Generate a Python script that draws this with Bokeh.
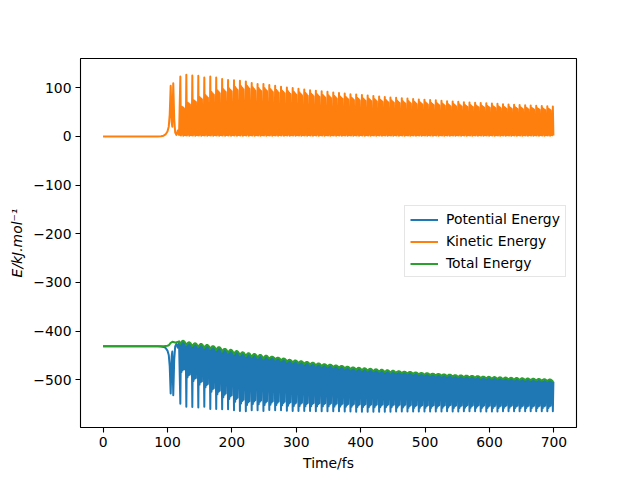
from bokeh.plotting import figure
from bokeh.models import Range1d, FixedTicker, Legend, LegendItem, ColumnDataSource
from bokeh.embed import file_html
from bokeh.resources import INLINE

# ---------------- data ----------------
# onset of the motion (before the regular oscillation)
onset_t = [0, 85, 90, 94, 97, 100, 102, 103.5, 105, 106.5, 107.5, 109, 110.5, 112, 114, 116, 118]
onset_ke = [0, 0, 0.5, 1.5, 4, 10, 20, 45, 104, 30, 20, 109, 35, 8, 3, 12, 3]
onset_tot = [-431, -431, -431, -431, -430.5, -430, -429, -427, -424, -423, -422, -422.5,
             -423, -423.5, -423, -422, -421]

# times (fs) of the kinetic-energy maxima of each vibration
cycle_t = [120, 129.3, 138.6, 147.9, 157.2, 166.5, 175.7, 184.9, 194.1, 203.3, 212.5,
           221.7, 230.8, 239.9, 249.0, 258.1, 267.2, 276.3, 285.4, 294.4, 303.4,
           312.4, 321.4, 330.4, 339.4, 348.4, 357.4, 366.3, 375.2, 384.1, 393.0,
           401.9, 410.8, 419.7, 428.6, 437.4, 446.2, 455.0, 463.8, 472.6, 481.4,
           490.2, 499.0, 507.8, 516.6, 525.4, 534.1, 542.8, 551.5, 560.2, 568.9,
           577.6, 586.3, 595.0, 603.7, 612.3, 620.9, 629.5, 638.1, 646.7, 655.3,
           663.9, 672.5, 681.1, 689.7, 698.3]
# kinetic energy maxima (kJ/mol)
ke_peak = [123, 126.5, 125, 124.5, 121, 123, 121, 118, 116, 115.5, 114.5,
           113, 109.5, 107.5, 107.5, 105.5, 104, 102, 100.5, 99.5, 98,
           96.5, 95, 94, 92.5, 91.5, 90, 89, 88, 86.5, 86,
           85, 84, 83, 82, 81, 80, 79.5, 78.5, 78, 77,
           76, 75.5, 74.5, 74, 73, 72, 71.5, 71, 70, 69.5,
           69, 68.5, 68, 67.5, 67, 66, 65.5, 65, 64.5, 64,
           63.5, 63, 62.5, 62, 61.5]
# secondary (fast) kinetic energy maxima inside each vibration
ke_mid = [61.5, 69.5, 75, 81, 84.5, 91, 94.5, 97, 98.5, 101.5, 103,
          104, 100.5, 99, 99, 97, 95.5, 94, 92.5, 91.5, 90,
          89, 87.5, 86.5, 85, 84, 83, 82, 81, 79.5, 79,
          78, 77.5, 76.5, 75.5, 74.5, 73.5, 73, 72, 72, 71,
          70, 69.5, 68.5, 68, 67, 66, 66, 65.5, 64.5, 64,
          63.5, 63, 62.5, 62, 61.5, 60.5, 60, 60, 59.5, 59,
          58.5, 58, 57.5, 57, 56.5]
# kinetic energy minima inside a vibration
ke_low = [2.0, 4.0, 1.5, 3.0, 2.5]
# lower fast maximum of each vibration (fraction of the main maximum)
ke_gap = 0.45
# total energy, tops of the small bumps
tot_top = [-420, -423, -425, -426.5, -428.5, -431, -433, -436.5, -438.5, -441, -443.5,
           -445.5, -447, -449, -450.5, -452.5, -454.5, -456.5, -459, -460.5, -462,
           -463.5, -465, -466.5, -468, -469, -470.5, -471.5, -473, -474.5, -475.5,
           -476.5, -477.5, -478.5, -479.5, -480.5, -481.5, -482.5, -483.5, -484, -485,
           -486, -486.5, -487.5, -488, -489, -489.5, -490.5, -491, -491.5, -492,
           -492.5, -493.5, -494, -494.5, -495, -495.5, -496, -496.5, -497, -497.5,
           -498, -498.5, -499, -499.5, -500]
# depth of the total-energy bumps: early / middle / late
tot_dip = [6.0, 4.0, 3.0]

x_ticks = [0, 100, 200, 300, 400, 500, 600, 700]
y_ticks = [-500, -400, -300, -200, -100, 0, 100]
labels = ["Potential Energy", "Kinetic Energy", "Total Energy"]
colors = ["#1f77b4", "#ff7f0e", "#2ca02c"]

# ---------------- build the sampled series ----------------
T, KE, TOT = list(onset_t), list(onset_ke), list(onset_tot)
offs = [k / 10 for k in range(10)]
tot_shape = [1.0, 0.7, 0.4, 0.1, 0.0, 0.0, 0.1, 0.3, 0.6, 0.85]
for i, tc in enumerate(cycle_t):
    per = (cycle_t[i + 1] - tc) if i + 1 < len(cycle_t) else 8.6
    d = tot_dip[0] if tc < 250 else (tot_dip[1] if tc < 450 else tot_dip[2])
    m = ke_mid[i]
    kes = [ke_peak[i], ke_low[0], m, ke_low[1], m * 0.97, ke_low[2], m * 0.94, ke_low[3],
           ke_peak[i] * ke_gap, ke_low[4]]
    for o, k, s in zip(offs, kes, tot_shape):
        t = tc + o * per
        if t > 700:
            break
        T.append(t)
        KE.append(k)
        TOT.append(tot_top[i] - s * d)
PE = [e - k for e, k in zip(TOT, KE)]

src = ColumnDataSource(dict(t=T, pe=PE, ke=KE, tot=TOT))

# ---------------- figure ----------------
FONT = "DejaVu Sans"
p = figure(width=640, height=480, output_backend="svg", toolbar_location=None,
           x_range=Range1d(-35, 735), y_range=Range1d(-598, 160),
           min_border_left=80, min_border_right=64, min_border_top=58, min_border_bottom=53,
           background_fill_color="white", border_fill_color="white")
p.xgrid.visible = False
p.ygrid.visible = False
p.outline_line_color = "black"
p.outline_line_width = 1.1

r_pe = p.line("t", "pe", source=src, color=colors[0], line_width=2.0, line_join="round")
r_ke = p.line("t", "ke", source=src, color=colors[1], line_width=2.0, line_join="round")
r_tot = p.line("t", "tot", source=src, color=colors[2], line_width=2.0, line_join="round")

p.xaxis.ticker = FixedTicker(ticks=x_ticks)
p.yaxis.ticker = FixedTicker(ticks=y_ticks)
p.yaxis.major_label_overrides = {v: (("\u2212" + str(-v)) if v < 0 else str(v)) for v in y_ticks}
p.xaxis.major_label_overrides = {v: str(v) for v in x_ticks}
for ax in (p.xaxis[0], p.yaxis[0]):
    ax.axis_line_color = None
    ax.major_tick_line_color = "black"
    ax.major_tick_line_width = 1.1
    ax.major_tick_out = 5
    ax.major_tick_in = 0
    ax.minor_tick_line_color = None
    ax.major_label_text_font = FONT
    ax.major_label_text_font_size = "13.9px"
    ax.major_label_text_color = "black"
    ax.axis_label_text_font = FONT
    ax.axis_label_text_font_size = "13.9px"
    ax.axis_label_text_color = "black"
    ax.major_label_standoff = 4
p.xaxis.axis_label = "Time/fs"
p.xaxis.axis_label_text_font_style = "normal"
p.xaxis.axis_label_standoff = 5
p.yaxis.axis_label = "E/kJ.mol\u207b\u00b9"
p.yaxis.axis_label_text_font_style = "italic"
p.yaxis.axis_label_standoff = 5

legend = Legend(items=[LegendItem(label=labels[0], renderers=[r_pe]),
                       LegendItem(label=labels[1], renderers=[r_ke]),
                       LegendItem(label=labels[2], renderers=[r_tot])],
                location=(324, 150))
legend.label_text_font = FONT
legend.label_text_font_size = "13.9px"
legend.label_text_color = "black"
legend.glyph_width = 28
legend.glyph_height = 15
legend.label_height = 15
legend.label_standoff = 8
legend.spacing = 6
legend.padding = 5
legend.margin = 0
legend.border_line_color = "#cccccc"
legend.border_line_width = 1
legend.background_fill_color = "white"
legend.background_fill_alpha = 0.8
p.add_layout(legend)

open("out.html", "w").write(file_html(p, INLINE))
